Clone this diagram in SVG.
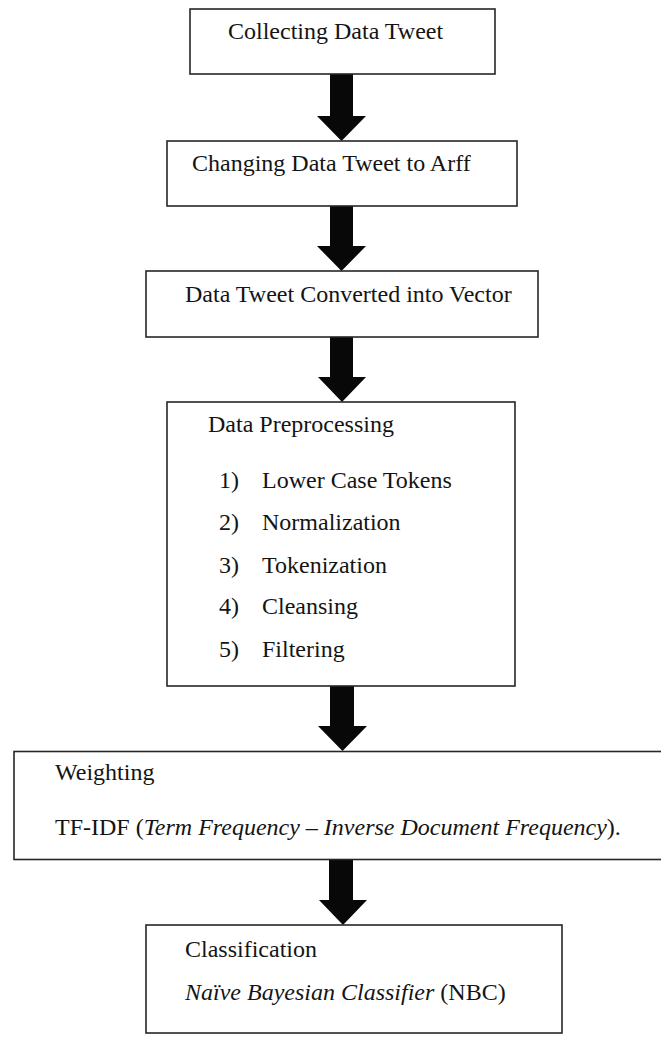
<svg xmlns="http://www.w3.org/2000/svg" width="661" height="1037" viewBox="0 0 661 1037">
  <style>
    .box { fill: #ffffff; stroke: #262626; stroke-width: 1.6; }
    .lbl { font-family: "Liberation Serif", "Times New Roman", serif; font-size: 24px; fill: #141414; }
    .it { font-style: italic; }
    .arrow { fill: #080808; }
  </style>
  <rect width="661" height="1037" fill="#ffffff"/>

  <!-- block down-arrows: 23px shaft, ~49px head, 25px head height, tip on the next box -->
  <g id="connectors">
    <path class="arrow" d="M 330 74 L 353 74 L 353 116 L 366 116 L 341.5 141 L 317 116 L 330 116 Z"/>
    <path class="arrow" d="M 330 206 L 353 206 L 353 246 L 366 246 L 341.5 271 L 317 246 L 330 246 Z"/>
    <path class="arrow" d="M 330 337 L 353 337 L 353 377 L 366 377 L 342 402 L 318 377 L 330 377 Z"/>
    <path class="arrow" d="M 330 686 L 354 686 L 354 726 L 367 726 L 342.5 751 L 318 726 L 330 726 Z"/>
    <path class="arrow" d="M 329 860 L 353 860 L 353 900 L 367 900 L 343 925 L 319 900 L 329 900 Z"/>
  </g>

  <g id="collecting">
    <rect class="box" x="190" y="9" width="305" height="65"/>
    <text class="lbl" x="228" y="39">Collecting Data Tweet</text>
  </g>

  <g id="arff">
    <rect class="box" x="167" y="141" width="350" height="65"/>
    <text class="lbl" x="192" y="171">Changing Data Tweet to Arff</text>
  </g>

  <g id="vector">
    <rect class="box" x="146" y="271" width="392" height="66"/>
    <text class="lbl" x="185" y="302">Data Tweet Converted into Vector</text>
  </g>

  <g id="preprocessing">
    <rect class="box" x="167" y="402" width="348" height="284"/>
    <text class="lbl" x="208" y="432">Data Preprocessing</text>
    <text class="lbl" x="219" y="488">1)</text>
    <text class="lbl" x="262" y="488">Lower Case Tokens</text>
    <text class="lbl" x="219" y="530">2)</text>
    <text class="lbl" x="262" y="530">Normalization</text>
    <text class="lbl" x="219" y="573">3)</text>
    <text class="lbl" x="262" y="573">Tokenization</text>
    <text class="lbl" x="219" y="614">4)</text>
    <text class="lbl" x="262" y="614">Cleansing</text>
    <text class="lbl" x="219" y="657">5)</text>
    <text class="lbl" x="262" y="657">Filtering</text>
  </g>

  <!-- this box runs past the right edge of the canvas -->
  <g id="weighting">
    <rect class="box" x="14" y="751.5" width="660" height="108"/>
    <text class="lbl" x="55" y="780">Weighting</text>
    <text class="lbl" x="55" y="835">TF-IDF (<tspan class="it">Term Frequency – Inverse Document Frequency</tspan>).</text>
  </g>

  <g id="classification">
    <rect class="box" x="146" y="925" width="416" height="108"/>
    <text class="lbl" x="185" y="957">Classification</text>
    <text class="lbl" x="185" y="1000"><tspan class="it">Naïve Bayesian Classifier</tspan> (NBC)</text>
  </g>
</svg>
